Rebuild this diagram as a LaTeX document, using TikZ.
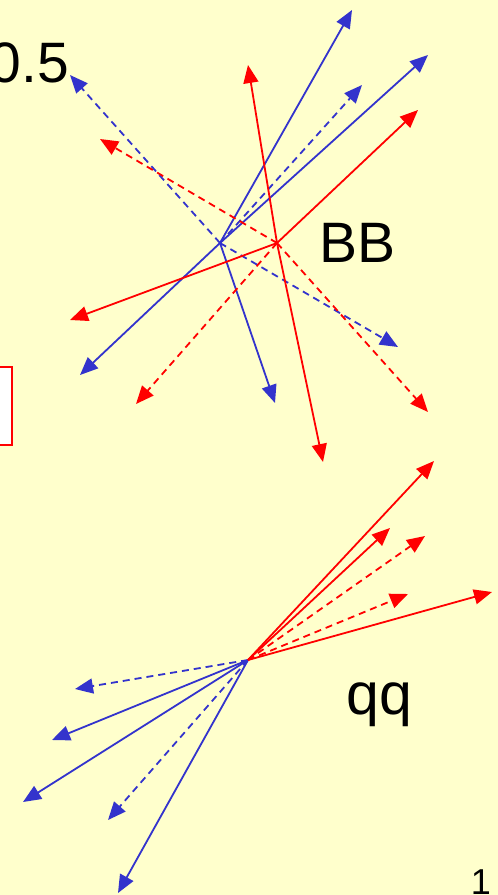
\documentclass[tikz,border=0pt]{standalone}
\usepackage{fontspec}
\setmainfont{Liberation Sans}
\usetikzlibrary{arrows.meta}

\definecolor{slidebg}{RGB}{255,255,204}
\definecolor{trkblue}{RGB}{51,51,204}
\definecolor{trkred}{RGB}{255,0,0}

\begin{document}
\begin{tikzpicture}[
    x=1pt, y=-1pt,
    track/.style={-{Triangle[length=18pt,width=15pt]}, line width=1.8pt},
    bluetrack/.style={track, trkblue},
    redtrack/.style={track, trkred},
    soft/.style={dash pattern=on 7pt off 5pt},
    tag/.style={inner sep=0pt, font=\fontsize{57}{60}\selectfont}
]

\fill[slidebg] (0,0) rectangle (498,895);
\useasboundingbox (0,0) rectangle (498,895);

% texts
\node[tag, anchor=north east] (cut) at (69,42) {0.5};
\node[tag, anchor=north west] (bb) at (319,223) {BB};
\node[tag, font=\fontsize{59}{62}\selectfont, anchor=base west] (qq) at (346,714) {qq};
\node[inner sep=0pt, font=\fontsize{36}{40}\selectfont, anchor=north east] (pg) at (491,870) {1};

% box at the left edge
\draw[trkred, line width=2pt, fill=white] (-10,367) rectangle (12,445);

% BB event
\coordinate (bbB) at (220,243);
\coordinate (bbR) at (277,243);

\foreach \px/\py [count=\i] in {352/10, 428/55, 80/375, 275/403}
  {\coordinate (bs\i) at (\px,\py); \draw[bluetrack] (bbB) -- (bs\i);}
\foreach \px/\py [count=\i] in {362/85, 70/75, 398/347}
  {\coordinate (bd\i) at (\px,\py); \draw[bluetrack, soft] (bbB) -- (bd\i);}

\foreach \px/\py [count=\i] in {248/65, 418/110, 70/320, 323/462}
  {\coordinate (rs\i) at (\px,\py); \draw[redtrack] (bbR) -- (rs\i);}
\foreach \px/\py [count=\i] in {100/139, 136/404, 428/412}
  {\coordinate (rd\i) at (\px,\py); \draw[redtrack, soft] (bbR) -- (rd\i);}

% qq event
\coordinate (qqc) at (248,660);

\foreach \px/\py [count=\i] in {52/740, 23/802, 118/893}
  {\coordinate (qbs\i) at (\px,\py); \draw[bluetrack] (qqc) -- (qbs\i);}
\foreach \px/\py [count=\i] in {75/689, 108/820}
  {\coordinate (qbd\i) at (\px,\py); \draw[bluetrack, soft] (qqc) -- (qbd\i);}

\foreach \px/\py [count=\i] in {434/461, 390/528, 492/592}
  {\coordinate (qrs\i) at (\px,\py); \draw[redtrack] (qqc) -- (qrs\i);}
\foreach \px/\py [count=\i] in {425/536, 408/594}
  {\coordinate (qrd\i) at (\px,\py); \draw[redtrack, soft] (qqc) -- (qrd\i);}

\end{tikzpicture}
\end{document}
